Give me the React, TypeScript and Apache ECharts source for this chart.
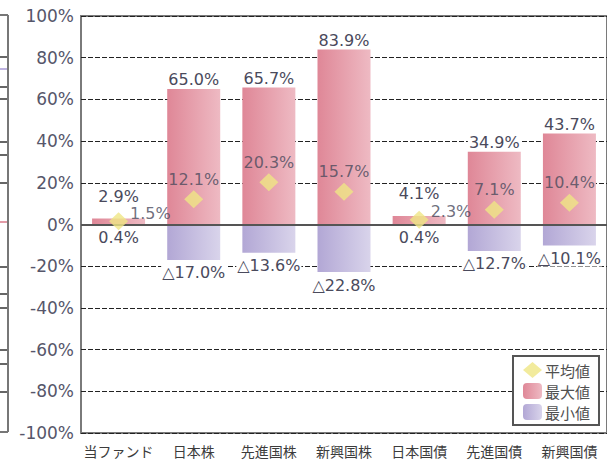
import React, { useEffect, useRef } from "react";
import * as echarts from "echarts";

const categories = ["当ファンド", "日本株", "先進国株", "新興国株", "日本国債", "先進国債", "新興国債"];
const maxValues = [2.9, 65.0, 65.7, 83.9, 4.1, 34.9, 43.7];
const avgValues = [1.5, 12.1, 20.3, 15.7, 2.3, 7.1, 10.4];
const minValues = [0.4, -17.0, -13.6, -22.8, 0.4, -12.7, -10.1];
const seriesNames = ["平均値", "最大値", "最小値"];

const TEXT = "#4a4a5c";
const FONT = "DejaVu Sans";
const CJK = "Noto Sans CJK JP";

const fmt = (v: number) => (v < 0 ? "△" + Math.abs(v).toFixed(1) + "%" : v.toFixed(1) + "%");

export default function App() {
  const ref = useRef<HTMLDivElement>(null);
  useEffect(() => {
    if (!ref.current) return;
    document.body.style.margin = "0";
    const chart = echarts.init(ref.current, null, { renderer: "svg" });
    const pink = new echarts.graphic.LinearGradient(0, 0, 1, 0, [
      { offset: 0, color: "#DF8797" },
      { offset: 1, color: "#EEBAC3" },
    ]);
    const purple = new echarts.graphic.LinearGradient(0, 0, 1, 0, [
      { offset: 0, color: "#B2A7D5" },
      { offset: 1, color: "#D9D4EB" },
    ]);
    const smallBar = (i: number) => Math.abs(maxValues[i]) < 10;
    const fragTicks = [57, 69, 87, 99, 142, 155, 183, 222, 267, 294, 308, 350, 364, 392];
    const fragColors: Record<number, string> = { 69: "#a89ad6", 222: "#d97a8a" };
    const outsideLabel = {
      show: true,
      formatter: (p: any) => fmt(p.value),
      color: TEXT,
      fontFamily: FONT,
      fontSize: 16,
      backgroundColor: "#fff",
      padding: [0, 1, 0, 1],
    };
    const option: any = {
      animation: false,
      backgroundColor: "#fff",
      grid: {
        left: 81,
        top: 16,
        bottom: 31,
        right: -6,
        show: true,
        borderColor: "#7a7a7a",
        borderWidth: 2,
        backgroundColor: "transparent",
      },
      xAxis: {
        type: "category",
        data: categories,
        axisLine: { show: false },
        axisTick: { show: false },
        axisLabel: { color: "#3c3c3c", fontFamily: CJK, fontSize: 14, margin: 11, interval: 0 },
      },
      yAxis: {
        type: "value",
        min: -100,
        max: 100,
        interval: 20,
        axisLine: { show: false },
        axisTick: { show: false },
        axisLabel: {
          formatter: (v: number) => v + "%",
          color: "#56566a",
          fontFamily: FONT,
          fontSize: 17,
          margin: 7,
        },
        splitLine: { show: true, lineStyle: { color: "#222", width: 1, type: [5, 2] } },
      },
      legend: {
        data: seriesNames,
        orient: "vertical",
        left: 513,
        top: 356,
        padding: [6, 9, 5, 10],
        itemGap: 5,
        itemWidth: 19,
        itemHeight: 16,
        backgroundColor: "#fff",
        borderColor: "#555",
        borderWidth: 2,
        borderRadius: 0,
        textStyle: { color: "#505050", fontFamily: CJK, fontSize: 15, lineHeight: 16, padding: [0, 0, 0, -2] },
      },
      series: [
        {
          name: "最小値",
          type: "bar",
          data: minValues,
          barWidth: 53,
          barGap: "-100%",
          itemStyle: { color: purple },
          z: 2,
          label: { ...outsideLabel, position: "bottom", distance: 5 },
        },
        {
          name: "最大値",
          type: "bar",
          data: maxValues.map((v, i) => ({
            value: v,
            label: smallBar(i) ? { distance: 14 } : undefined,
          })),
          barWidth: 53,
          barGap: "-100%",
          itemStyle: { color: pink },
          z: 3,
          label: { ...outsideLabel, position: "top", distance: 1 },
          markLine: {
            silent: true,
            symbol: "none",
            data: [{ yAxis: 0 }],
            lineStyle: { color: "#555", width: 2, type: "solid" },
            label: { show: false },
            z: 4,
          },
        },
        {
          name: "平均値",
          type: "scatter",
          data: avgValues.map((v, i) => ({
            value: v,
            label: smallBar(i)
              ? { position: "right", distance: 2, offset: [0, -8] }
              : undefined,
          })),
          symbol: "diamond",
          symbolSize: [19, 18],
          itemStyle: { color: "#EFE684" },
          z: 6,
          label: {
            show: true,
            position: "top",
            distance: 3,
            formatter: (p: any) => fmt(p.value),
            color: TEXT,
            fontFamily: FONT,
            fontSize: 16,
          },
        },
      ],
      graphic: [
        {
          type: "group",
          silent: true,
          children: [
            { type: "line", shape: { x1: 8, y1: 15, x2: 8, y2: 432 }, style: { stroke: "#777", lineWidth: 2 } },
            { type: "line", shape: { x1: 0, y1: 15, x2: 8, y2: 15 }, style: { stroke: "#777", lineWidth: 2 } },
            { type: "line", shape: { x1: 0, y1: 432, x2: 8, y2: 432 }, style: { stroke: "#777", lineWidth: 2 } },
            ...fragTicks.map((y) => ({
              type: "line",
              shape: { x1: 0, y1: y, x2: 7, y2: y },
              style: { stroke: fragColors[y] || "#333", lineWidth: 1.5 },
            })),
          ],
        },
      ],
    };
    chart.setOption(option);
    return () => chart.dispose();
  }, []);
  return <div ref={ref} style={{ width: 607, height: 464 }} />;
}
